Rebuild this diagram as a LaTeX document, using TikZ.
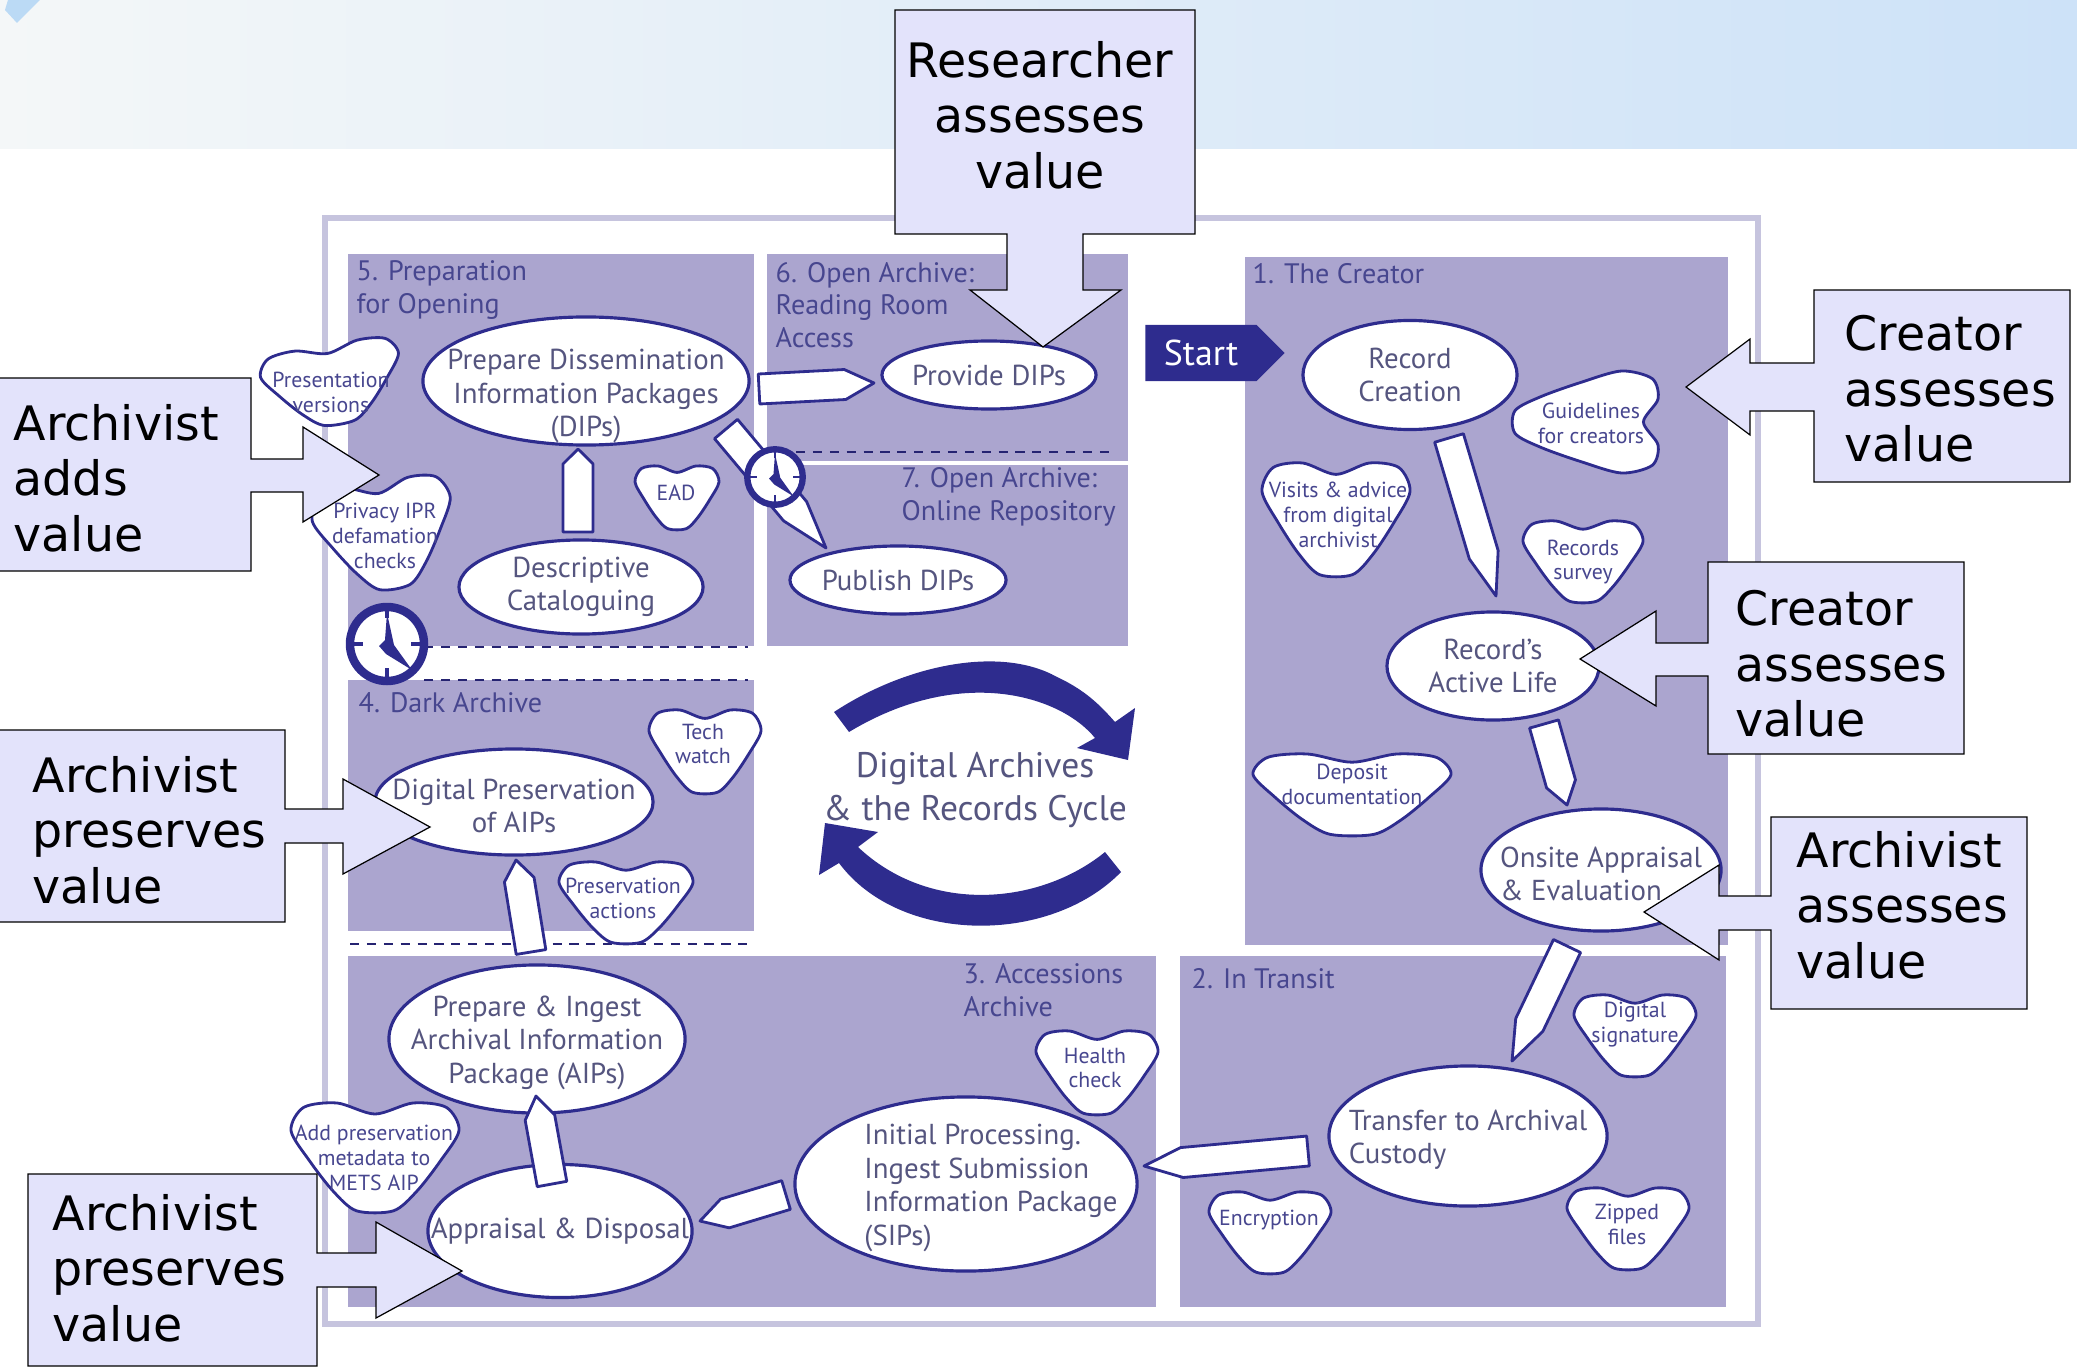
\documentclass[tikz,border=0pt]{standalone}
\usepackage{fontspec}
\setmainfont{PT Sans}
\newfontfamily\calloutfont{DejaVu Sans}
\usetikzlibrary{calc,shapes.geometric,shapes.symbols}

\definecolor{navy}{HTML}{2E2C8E}
\definecolor{panelblue}{HTML}{ABA5CF}
\definecolor{framegrey}{HTML}{C6C4DE}
\definecolor{calloutblue}{HTML}{E3E3FB}
\definecolor{labelblue}{HTML}{47468F}
\definecolor{textgrey}{HTML}{55557F}
\definecolor{bandleft}{HTML}{F4F7F8}
\definecolor{bandmid}{HTML}{E4EDF5}
\definecolor{bandright}{HTML}{CDE2F8}
\definecolor{bandmark}{HTML}{BBDAF5}

\newcommand{\blob}[7][]{
	\draw[blobline,shift={(#3)},#1,xscale=#4,yscale=#5] plot[smooth cycle] coordinates
	{(0,-0.8) (0.45,-1) (0.85,-0.92) (1,-0.5) (0.78,0.05) (0.5,0.6) (0.22,0.96) (-0.22,0.96) (-0.5,0.6) (-0.78,0.05) (-1,-0.5) (-0.85,-0.92) (-0.45,-1)};
	\node[blobtext] (#2) at (#6) {#7};
}
\newcommand{\pencil}[3]{
	\coordinate (ps) at (#1);
	\coordinate (pe) at (#2);
	\coordinate (ph) at ($(pe)!#3*0.01cm!(ps)$);
	\draw[pencilshape] ($(ps)!0.15cm!90:(pe)$) -- ($(ph)!0.15cm!90:(pe)$) -- (pe)
	-- ($(ph)!0.15cm!-90:(pe)$) -- ($(ps)!0.15cm!-90:(pe)$) -- cycle;
}
\newcommand{\clock}[3]{
	\node[clockface,minimum size=#3*0.74cm,line width=#3*2.4pt] (#1) at (#2) {};
	\begin{scope}[shift={(#2)},scale=#3]
		\draw[navy,line width=#3*1pt] (-37,0) -- (-24,0) (37,0) -- (24,0) (0,-37) -- (0,-26) (0,37) -- (0,24);
		\fill[navy] (0,-31) -- (7,1) -- (25,26) -- (-1,10) -- (-8,2) -- (-2,-4) -- cycle;
	\end{scope}
}
\newcommand{\lowline}{\rule{0pt}{8pt}}

\begin{document}
\begin{tikzpicture}
	[x=0.01cm,y=-0.01cm,
		panel/.style={fill=panelblue},
		panellabel/.style={anchor=west,align=left,inner sep=0pt,text=labelblue,font=\fontsize{8}{9.3}\selectfont},
		sepline/.style={dash pattern=on 2.6pt off 2.2pt,line width=0.5pt,navy!80!black},
		procell/.style={ellipse,draw=navy,fill=white,line width=0.9pt,inner sep=-30pt,outer sep=0pt,align=center,text=textgrey,font=\fontsize{8.2}{9.5}\selectfont},
		blobline/.style={draw=navy,fill=white,line width=0.8pt},
		blobtext/.style={align=center,inner sep=0pt,text=labelblue,font=\fontsize{6.2}{7.1}\selectfont},
		pencilshape/.style={draw=navy,fill=white,line width=0.8pt,line join=round},
		clockface/.style={circle,draw=navy,fill=white,inner sep=0pt},
		callout/.style={draw=black,fill=calloutblue,line width=0.35pt},
		callouttext/.style={inner sep=0pt,align=left,font=\calloutfont\fontsize{13.5}{15.8}\selectfont},
		startsign/.style={signal,signal to=east,signal pointer angle=90,fill=navy,text=white,inner sep=0pt,minimum width=1.39cm,minimum height=0.56cm,font=\fontsize{10.2}{11}\selectfont}]

	\useasboundingbox (0,0) rectangle (2077,1367);

	\shade[left color=bandleft,middle color=bandmid,right color=bandright] (0,0) rectangle (2077,149);
	\fill[bandmark] (8,0) -- (40,0) -- (17,23) -- (5,10) -- cycle;

	\draw[framegrey,line width=1.5pt] (325,218) rectangle (1758,1324);

	\fill[panel] (348,254) rectangle (754,646);
	\fill[panel] (767,254) rectangle (1128,461);
	\fill[panel] (767,465) rectangle (1128,646);
	\fill[panel] (1245,257) rectangle (1728,945);
	\fill[panel] (348,680) rectangle (754,931);
	\fill[panel] (348,956) rectangle (1156,1307);
	\fill[panel] (1180,956) rectangle (1726,1307);

	\draw[sepline] (424,647) -- (748,647);
	\draw[sepline] (424,680) -- (748,680);
	\draw[sepline] (350,944) -- (748,944);
	\draw[sepline] (796,452) -- (1109,452);

	\node[panellabel] (prepl) at (356,290) {5. Preparation\\for Opening};
	\node[panellabel] (readl) at (775,305) {6. Open Archive:\\Reading Room\\Access};
	\node[panellabel] (onlinel) at (901,497) {7. Open Archive:\\Online Repository};
	\node[panellabel] (creatorl) at (1252,274) {1. The Creator};
	\node[panellabel] (darkl) at (358,703) {4. Dark Archive};
	\node[panellabel] (accessl) at (963,990) {3. Accessions\\Archive};
	\node[panellabel] (transitl) at (1191,979) {2. In Transit};

	\node[startsign] (start) at (1201,353) {Start\hspace{0.25cm}};

	\fill[navy] (834,712) .. controls (905,665) and (1000,645) .. (1057,677) .. controls (1085,690) and (1100,705) .. (1115,722)
	-- (1135,708) -- (1128,760) -- (1077,748) -- (1095,738) .. controls (1060,695) and (960,665) .. (849,732) -- cycle;
	\fill[navy] (1105,852) .. controls (1040,905) and (930,915) .. (858,847) -- (878,832) -- (825,823) -- (819,875) -- (839,863)
	.. controls (900,945) and (1050,945) .. (1121,872) -- cycle;
	\node[align=center,text=textgrey,font=\fontsize{10.1}{12}\selectfont] (cyclel) at (975,790) {Digital Archives\\\& the Records Cycle};

	\node[procell,minimum width=3.26cm,minimum height=1.28cm] (dipprep) at (586,381) {\rule{0pt}{14.5pt}Prepare Dissemination\\Information Packages\\(DIPs)};
	\node[procell,minimum width=2.14cm,minimum height=0.68cm] (provide) at (989,375) {Provide DIPs};
	\node[procell,minimum width=2.44cm,minimum height=0.94cm] (descr) at (581,587) {Descriptive\\Cataloguing};
	\node[procell,minimum width=2.16cm,minimum height=0.68cm] (publish) at (898,580) {Publish DIPs};
	\node[procell,minimum width=2.14cm,minimum height=1.09cm] (create) at (1410,375) {Record\\Creation};
	\node[procell,minimum width=2.12cm,minimum height=1.08cm] (active) at (1493,666) {Record's\\Active Life};
	\node[procell,align=left,minimum width=2.40cm,minimum height=1.22cm] (onsite) at (1601,870) {\lowline Onsite Appraisal\\\& Evaluation};
	\node[procell,align=left,minimum width=2.78cm,minimum height=1.40cm] (transfer) at (1468,1136) {\lowline Transfer to Archival\\Custody};
	\node[procell,align=left,minimum width=3.42cm,minimum height=1.74cm] (initial) at (966,1184) {\lowline\hspace*{0.5cm}Initial Processing.\\\hspace*{0.5cm}Ingest Submission\\\hspace*{0.5cm}Information Package\\\hspace*{0.5cm}(SIPs)};
	\node[procell,minimum width=2.64cm,minimum height=1.33cm] (appraisal) at (560,1231) {Appraisal \& Disposal};
	\node[procell,minimum width=2.96cm,minimum height=1.48cm] (ingest) at (537,1039) {\lowline Prepare \& Ingest\\Archival Information\\Package (AIPs)};
	\node[procell,minimum width=2.78cm,minimum height=1.06cm] (preserve) at (514,802) {\lowline Digital Preservation\\of AIPs};

	\pencil{$(dipprep)+(173,8)$}{$(provide)+(-115,8)$}{29}
	\pencil{$(descr)+(-3,-55)$}{$(dipprep)+(-8,68)$}{15}
	\pencil{$(dipprep)+(140,48)$}{$(publish)+(-72,-32)$}{48}
	\pencil{$(create)+(39,63)$}{$(active)+(3,-70)$}{43}
	\pencil{$(active)+(51,58)$}{$(onsite)+(-34,-65)$}{22}
	\pencil{$(onsite)+(-34,76)$}{$(transfer)+(44,-75)$}{40}
	\pencil{$(transfer)+(-160,15)$}{$(initial)+(178,-18)$}{38}
	\pencil{$(initial)+(-180,11)$}{$(appraisal)+(140,-10)$}{26}
	\pencil{$(appraisal)+(-8,-47)$}{$(ingest)+(-1,57)$}{22}
	\pencil{$(ingest)+(-6,-87)$}{$(preserve)+(2,58)$}{20}

	\clock{smallclock}{775,477}{0.75}
	\clock{darkclock}{387,644}{1}

	\blob[rotate=10]{present}{333,385}{70}{40}{331,392}{Presentation\\versions}
	\blob[rotate=10]{privacy}{386,536}{70}{54}{385,536}{Privacy IPR\\defamation\\checks}
	\blob{ead}{677,498}{42}{32}{676,493}{EAD}
	\blob{visits}{1336,520}{74}{57}{1338,515}{Visits \& advice\\from digital\\archivist}
	\blob[rotate=-90]{guide}{1585,422}{51}{73}{1591,423}{Guidelines\\for creators}
	\blob{survey}{1583,562}{60}{41}{1583,562}{Records\\survey}
	\blob{deposit}{1352,795}{99}{41}{1352,784}{Deposit\\documentation}
	\blob{tech}{705,752}{56}{42}{703,744}{Tech\\watch}
	\blob{presact}{626,903}{67}{41}{623,898}{Preservation\\actions}
	\blob{addmeta}{375,1158}{84}{55}{374,1158}{Add preservation\\metadata to\\METS AIP}
	\blob{health}{1097,1073}{61}{42}{1095,1068}{Health\\check}
	\blob{signature}{1635,1036}{61}{41}{1635,1025}{Digital\\signature}
	\blob{encrypt}{1270,1233}{61}{41}{1269,1220}{Encryption}
	\blob{zipped}{1628,1229}{61}{41}{1627,1224}{Zipped\\files}

	\draw[callout] (895,10) -- (1195,10) -- (1195,234) -- (1083,234) -- (1083,290) -- (1121,290) -- (1043,347) -- (970,290) -- (1007,290) -- (1007,234) -- (895,234) -- cycle;
	\draw[callout] (-2,378) -- (251,378) -- (251,459) -- (303,459) -- (303,427) -- (379,475) -- (303,522) -- (303,492) -- (251,492) -- (251,571) -- (-2,571) -- cycle;
	\draw[callout] (-2,730) -- (285,730) -- (285,809) -- (343,809) -- (343,779) -- (430,827) -- (343,874) -- (343,843) -- (285,843) -- (285,922) -- (-2,922) -- cycle;
	\draw[callout] (28,1174) -- (317,1174) -- (317,1253) -- (376,1253) -- (376,1222) -- (462,1271) -- (376,1318) -- (376,1287) -- (317,1287) -- (317,1366) -- (28,1366) -- cycle;
	\draw[callout] (2070,290) -- (1814,290) -- (1814,363) -- (1750,363) -- (1750,339) -- (1686,387) -- (1750,435) -- (1750,411) -- (1814,411) -- (1814,482) -- (2070,482) -- cycle;
	\draw[callout] (1964,562) -- (1708,562) -- (1708,643) -- (1656,643) -- (1656,611) -- (1580,659) -- (1656,706) -- (1656,676) -- (1708,676) -- (1708,754) -- (1964,754) -- cycle;
	\draw[callout] (2027,817) -- (1771,817) -- (1771,896) -- (1719,896) -- (1719,865) -- (1644,912) -- (1719,960) -- (1719,930) -- (1771,930) -- (1771,1009) -- (2027,1009) -- cycle;

	\node[callouttext,align=center] (researcher) at (1040,115) {Researcher\\assesses\\value};
	\node[callouttext,anchor=west] (adds) at (13,478) {Archivist\\adds\\value};
	\node[callouttext,anchor=west] (presa) at (32,830) {Archivist\\preserves\\value};
	\node[callouttext,anchor=west] (presb) at (52,1268) {Archivist\\preserves\\value};
	\node[callouttext,anchor=west] (creatora) at (1844,389) {Creator\\assesses\\value};
	\node[callouttext,anchor=west] (creatorb) at (1735,664) {Creator\\assesses\\value};
	\node[callouttext,anchor=west] (assess) at (1796,905) {Archivist\\assesses\\value};

\end{tikzpicture}
\end{document}
